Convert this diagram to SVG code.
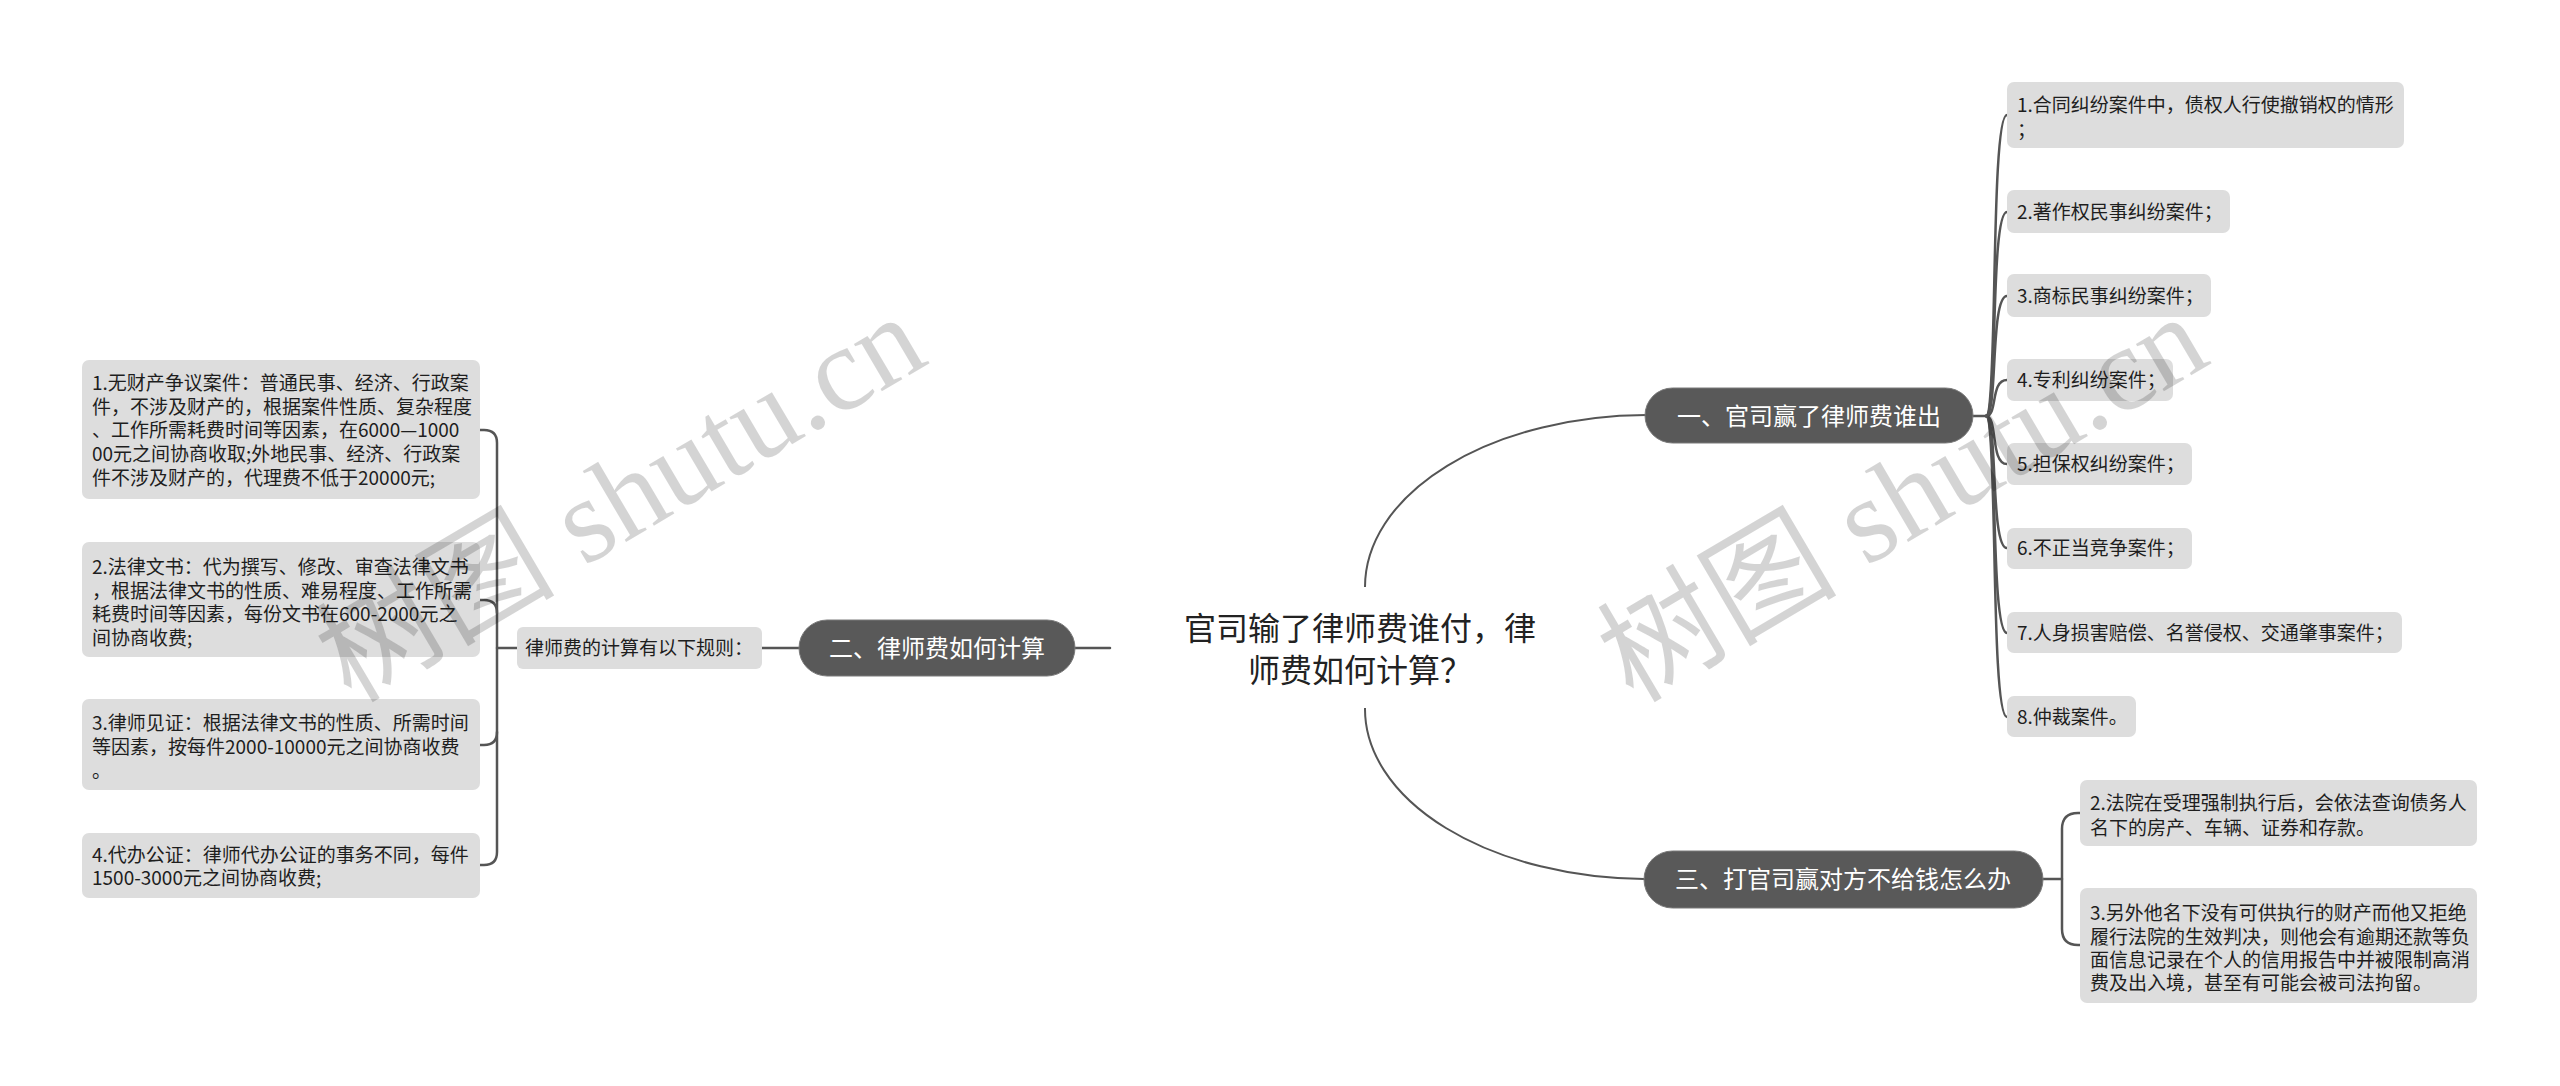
<svg xmlns="http://www.w3.org/2000/svg" width="2560" height="1086" viewBox="0 0 2560 1086">
<style>
.box{fill:#dddddd;}
.t{font-family:"Noto Sans CJK SC","Noto Sans",sans-serif;font-size:19px;fill:#1e1e1e;}
.node{fill:#595959;stroke:#7a7a7a;stroke-width:1;}
.nt{font-family:"Noto Sans CJK SC","Noto Sans",sans-serif;font-size:24px;fill:#ffffff;text-anchor:middle;}
.ct{font-family:"Noto Sans CJK SC","Noto Sans",sans-serif;font-size:32px;fill:#222222;text-anchor:middle;}
.ln{fill:none;stroke:#555555;stroke-width:2.5;stroke-linecap:round;}
.arc{fill:none;stroke:#555555;stroke-width:2;}
.wm{font-family:"Liberation Serif","Noto Sans CJK SC",serif;font-size:120px;fill:#000000;fill-opacity:0.17;}
</style>
<rect width="2560" height="1086" fill="#ffffff"/>

<g id="connectors">
  <path class="arc" d="M1365,587 A283,172 0 0 1 1646,415"/>
  <path class="arc" d="M1365,708 A283,170 0 0 0 1644,879"/>
  <path class="ln" d="M1075,648 H1110"/>
  <path class="ln" d="M799,648 H762"/>
  <path class="ln" d="M517,648 H497"/>
  <path class="ln" d="M480,430 H484 Q497,430 497,443 V852 Q497,865 484,865 H480"/>
  <path class="ln" d="M497,613 Q497,600 484,600 H480"/>
  <path class="ln" d="M497,732 Q497,745 484,745 H480"/>
  <path class="ln" d="M1973,416 H1986"/>
  <path class="ln" d="M1986,416 C1998,416 1990,115 2007,115"/>
  <path class="ln" d="M1986,416 C1998,416 1990,212 2007,212"/>
  <path class="ln" d="M1986,416 C1998,416 1990,296 2007,296"/>
  <path class="ln" d="M1986,416 C1998,416 1990,380 2007,380"/>
  <path class="ln" d="M1986,416 C1998,416 1990,464 2007,464"/>
  <path class="ln" d="M1986,416 C1998,416 1990,548 2007,548"/>
  <path class="ln" d="M1986,416 C1998,416 1990,633 2007,633"/>
  <path class="ln" d="M1986,416 C1998,416 1990,717 2007,717"/>
  <path class="ln" d="M2043,879 H2062"/>
  <path class="ln" d="M2080,813 H2078 Q2062,813 2062,829 V929 Q2062,945 2078,945 H2080"/>
</g>

<g id="center">
  <text class="ct" x="1360" y="640">官司输了律师费谁付，律</text>
  <text class="ct" x="1360" y="682">师费如何计算？</text>
</g>

<g id="node1">
  <rect class="node" x="1645" y="388" width="328" height="55" rx="27.5"/>
  <text class="nt" x="1809" y="425">一、官司赢了律师费谁出</text>
</g>
<g id="node2">
  <rect class="node" x="799" y="620" width="276" height="56" rx="28"/>
  <text class="nt" x="937" y="657">二、律师费如何计算</text>
</g>
<g id="node3">
  <rect class="node" x="1644" y="851" width="399" height="57" rx="28.5"/>
  <text class="nt" x="1843" y="888">三、打官司赢对方不给钱怎么办</text>
</g>

<g id="label2">
  <rect class="box" x="517" y="627" width="245" height="42" rx="6"/>
  <text class="t" x="525" y="655">律师费的计算有以下规则：</text>
</g>

<g id="left1">
  <rect class="box" x="82" y="360" width="398" height="139" rx="7"/>
  <text class="t" x="92" y="390">1.无财产争议案件：普通民事、经济、行政案</text>
  <text class="t" x="92" y="414">件，不涉及财产的，根据案件性质、复杂程度</text>
  <text class="t" x="92" y="437">、工作所需耗费时间等因素，在6000—1000</text>
  <text class="t" x="92" y="461">00元之间协商收取;外地民事、经济、行政案</text>
  <text class="t" x="92" y="485">件不涉及财产的，代理费不低于20000元;</text>
</g>
<g id="left2">
  <rect class="box" x="82" y="542" width="398" height="115" rx="7"/>
  <text class="t" x="92" y="574">2.法律文书：代为撰写、修改、审查法律文书</text>
  <text class="t" x="92" y="598">，根据法律文书的性质、难易程度、工作所需</text>
  <text class="t" x="92" y="621">耗费时间等因素，每份文书在600-2000元之</text>
  <text class="t" x="92" y="645">间协商收费;</text>
</g>
<g id="left3">
  <rect class="box" x="82" y="699" width="398" height="91" rx="7"/>
  <text class="t" x="92" y="730">3.律师见证：根据法律文书的性质、所需时间</text>
  <text class="t" x="92" y="754">等因素，按每件2000-10000元之间协商收费</text>
  <text class="t" x="92" y="778">。</text>
</g>
<g id="left4">
  <rect class="box" x="82" y="833" width="398" height="65" rx="7"/>
  <text class="t" x="92" y="862">4.代办公证：律师代办公证的事务不同，每件</text>
  <text class="t" x="92" y="885">1500-3000元之间协商收费;</text>
</g>

<g id="r1">
  <rect class="box" x="2007" y="82" width="397" height="66" rx="7"/>
  <text class="t" x="2017" y="112">1.合同纠纷案件中，债权人行使撤销权的情形</text>
  <text class="t" x="2017" y="137">；</text>
</g>
<g id="r2">
  <rect class="box" x="2007" y="190" width="223" height="43" rx="7"/>
  <text class="t" x="2017" y="219">2.著作权民事纠纷案件；</text>
</g>
<g id="r3">
  <rect class="box" x="2007" y="274" width="204" height="43" rx="7"/>
  <text class="t" x="2017" y="303">3.商标民事纠纷案件；</text>
</g>
<g id="r4">
  <rect class="box" x="2007" y="359" width="166" height="42" rx="7"/>
  <text class="t" x="2017" y="387">4.专利纠纷案件；</text>
</g>
<g id="r5">
  <rect class="box" x="2007" y="443" width="185" height="42" rx="7"/>
  <text class="t" x="2017" y="471">5.担保权纠纷案件；</text>
</g>
<g id="r6">
  <rect class="box" x="2007" y="528" width="185" height="41" rx="7"/>
  <text class="t" x="2017" y="555">6.不正当竞争案件；</text>
</g>
<g id="r7">
  <rect class="box" x="2007" y="612" width="395" height="41" rx="7"/>
  <text class="t" x="2017" y="640">7.人身损害赔偿、名誉侵权、交通肇事案件；</text>
</g>
<g id="r8">
  <rect class="box" x="2007" y="696" width="129" height="41" rx="7"/>
  <text class="t" x="2017" y="724">8.仲裁案件。</text>
</g>

<g id="r3a">
  <rect class="box" x="2080" y="780" width="397" height="66" rx="7"/>
  <text class="t" x="2090" y="810">2.法院在受理强制执行后，会依法查询债务人</text>
  <text class="t" x="2090" y="835">名下的房产、车辆、证券和存款。</text>
</g>
<g id="r3b">
  <rect class="box" x="2080" y="888" width="397" height="115" rx="7"/>
  <text class="t" x="2090" y="920">3.另外他名下没有可供执行的财产而他又拒绝</text>
  <text class="t" x="2090" y="944">履行法院的生效判决，则他会有逾期还款等负</text>
  <text class="t" x="2090" y="967">面信息记录在个人的信用报告中并被限制高消</text>
  <text class="t" x="2090" y="990">费及出入境，甚至有可能会被司法拘留。</text>
</g>

<g id="watermark">
  <text class="wm" x="351" y="704" transform="rotate(-30.5 351 704)">树图 shutu.cn</text>
  <text class="wm" x="1633" y="704" transform="rotate(-30.5 1633 704)">树图 shutu.cn</text>
</g>
</svg>
